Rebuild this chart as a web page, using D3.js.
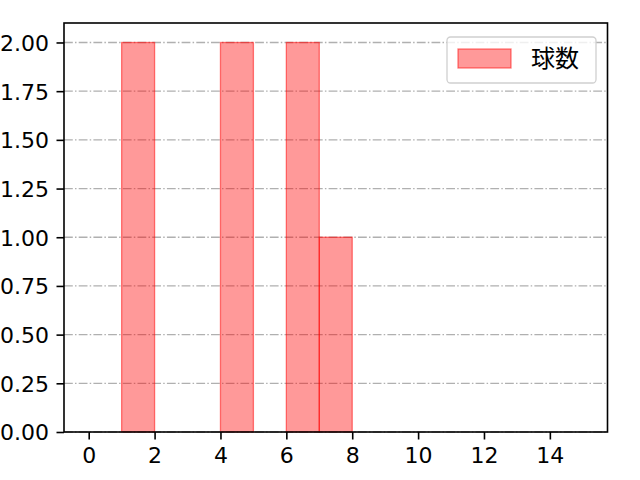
<!DOCTYPE html>
<html>
<head>
<meta charset="utf-8">
<script src="https://cdn.jsdelivr.net/npm/d3@7"></script>
<style>
body { margin: 0; background: #fff; }
text { font-family: "DejaVu Sans", sans-serif; }
</style>
</head>
<body>
<div id="chart"></div>
<script>
// histogram bins (left edge) and counts
const binStarts = [1, 4, 6, 7];
const binCounts = [2, 2, 2, 1];
const binWidth = 1;
const xTicks = [0, 2, 4, 6, 8, 10, 12, 14];
const yTicks = [0, 0.25, 0.5, 0.75, 1.0, 1.25, 1.5, 1.75, 2.0];
const seriesName = "球数";

const W = 640, H = 480;
const mLeft = 64, mRight = 607.5, mTop = 23, mBottom = 432;
const tickFont = 22;
const legendFont = 24;

const svg = d3.select('#chart').append('svg')
    .attr('width', W)
    .attr('height', H);

const x = d3.scaleLinear().domain([-0.75, 15.75]).range([mLeft, mRight]);
const y = d3.scaleLinear().domain([0, 2.1]).range([mBottom, mTop]);

// grid
svg.append('g')
    .selectAll('line')
    .data(yTicks)
    .join('line')
    .attr('x1', mLeft)
    .attr('x2', mRight)
    .attr('y1', d => y(d))
    .attr('y2', d => y(d))
    .attr('stroke', '#b0b0b0')
    .attr('stroke-width', 1.3)
    .attr('stroke-dasharray', '8.8,2.2,1.5,2.2');

// bars
svg.append('g')
    .selectAll('rect')
    .data(binStarts.map((s, i) => ({ s, c: binCounts[i] })))
    .join('rect')
    .attr('x', d => x(d.s))
    .attr('y', d => y(d.c))
    .attr('width', d => x(d.s + binWidth) - x(d.s))
    .attr('height', d => y(0) - y(d.c))
    .attr('fill', 'rgba(255,0,0,0.4)')
    .attr('stroke', 'rgba(255,0,0,0.5)')
    .attr('stroke-width', 1.3);

// axes
const xAxis = svg.append('g')
    .attr('transform', `translate(0,${mBottom})`)
    .call(d3.axisBottom(x).tickValues(xTicks).tickFormat(d3.format('d')).tickSizeOuter(0).tickSize(7.5).tickPadding(6.5));
const yAxis = svg.append('g')
    .attr('transform', `translate(${mLeft},0)`)
    .call(d3.axisLeft(y).tickValues(yTicks).tickFormat(d3.format('.2f')).tickSizeOuter(0).tickSize(7.5).tickPadding(7.5));

[xAxis, yAxis].forEach(a => {
    a.select('.domain').remove();
    a.selectAll('text').attr('font-size', tickFont).attr('fill', '#000').style('font-family', '"DejaVu Sans", sans-serif');
    a.selectAll('line').attr('stroke', '#000').attr('stroke-width', 1.6);
});
xAxis.selectAll('text').attr('dy', '0.76em');
yAxis.selectAll('text').attr('dy', '0.36em');

// frame
svg.append('rect')
    .attr('x', mLeft)
    .attr('y', mTop)
    .attr('width', mRight - mLeft)
    .attr('height', mBottom - mTop)
    .attr('fill', 'none')
    .attr('stroke', '#000')
    .attr('stroke-width', 1.6);

// legend
const lg = svg.append('g').attr('transform', 'translate(447,37)');
lg.append('rect')
    .attr('width', 149)
    .attr('height', 46)
    .attr('rx', 3.5)
    .attr('fill', 'rgba(255,255,255,0.8)')
    .attr('stroke', '#d0d0d0')
    .attr('stroke-width', 1.3);
lg.append('rect')
    .attr('x', 11)
    .attr('y', 12)
    .attr('width', 53)
    .attr('height', 19)
    .attr('fill', 'rgba(255,0,0,0.4)')
    .attr('stroke', 'rgba(255,0,0,0.5)')
    .attr('stroke-width', 1.3);
lg.append('text')
    .attr('x', 84)
    .attr('y', 21)
    .attr('dy', '0.36em')
    .attr('font-size', legendFont)
    .style('font-family', '"Noto Sans CJK JP", sans-serif')
    .text(seriesName);
</script>
</body>
</html>
